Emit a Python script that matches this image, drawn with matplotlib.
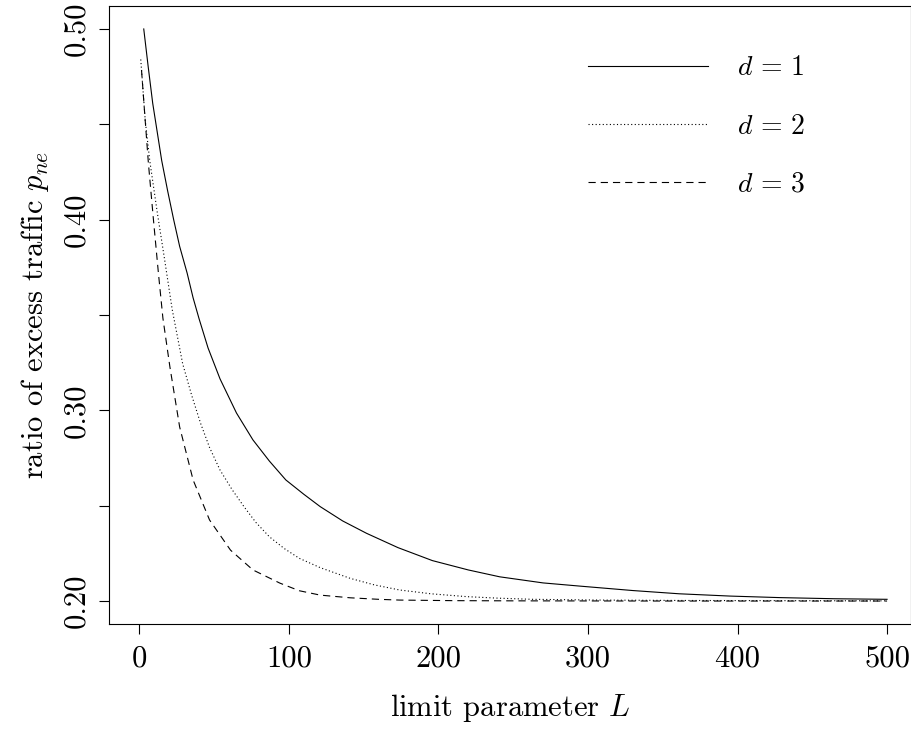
import matplotlib
matplotlib.use('Agg')
import matplotlib.pyplot as plt

plt.rcParams['font.family'] = ['cmr10', 'DejaVu Serif']
plt.rcParams['mathtext.fontset'] = 'cm'
plt.rcParams['axes.unicode_minus'] = False

# values
L_d1 = [3, 6, 9, 12, 15, 19, 23, 27, 32, 36, 40, 46, 54, 65, 76, 87, 98, 110, 121,
        136, 152, 173, 196, 220, 241, 270, 295, 330, 361, 395, 428, 465, 500]
p_d1 = [0.500, 0.480, 0.461, 0.446, 0.431, 0.415, 0.400, 0.386, 0.372, 0.359, 0.348,
        0.3327, 0.3165, 0.2986, 0.2845, 0.2734, 0.2635, 0.2560, 0.2495, 0.2420, 0.2355,
        0.2280, 0.2212, 0.2163, 0.2127, 0.2095, 0.2078, 0.2055, 0.2038, 0.2026, 0.2018,
        0.2012, 0.2009]

L_d2 = [1, 4, 7, 12, 17, 22, 29, 35, 41, 47, 54, 62, 70, 78, 87, 97, 107, 121, 141,
        157, 174, 195, 219, 240, 263, 308, 360, 430, 500]
p_d2 = [0.484, 0.452, 0.431, 0.404, 0.3788, 0.353, 0.3245, 0.3080, 0.2932, 0.2805,
        0.2687, 0.2585, 0.2495, 0.2412, 0.2337, 0.2275, 0.2224, 0.2175, 0.2119, 0.2085,
        0.2058, 0.2038, 0.2023, 0.2015, 0.2009, 0.2005, 0.2003, 0.2002, 0.2001]

L_d3 = [1.5, 3.8, 6.1, 9.5, 12.8, 15.8, 20.5, 27, 36, 47, 61, 76, 94, 107, 121, 141,
        160, 174, 210, 250, 350, 500]
p_d3 = [0.4785, 0.4538, 0.4297, 0.3998, 0.3720, 0.3484, 0.3227, 0.2913, 0.2635, 0.2425,
        0.2267, 0.2163, 0.2094, 0.2054, 0.2031, 0.2017, 0.2009, 0.2005, 0.2002, 0.2001,
        0.2000, 0.2000]

y_ticks = [0.20, 0.25, 0.30, 0.35, 0.40, 0.45, 0.50]
y_labels = ['0.20', '', '0.30', '', '0.40', '', '0.50']
x_ticks = [0, 100, 200, 300, 400, 500]

fig = plt.figure(figsize=(9.12, 7.3), dpi=100)
ax = fig.add_axes([0.1199, 0.1448, 0.8790, 0.8474])

ax.plot(L_d1, p_d1, color='black', lw=0.8, linestyle='-', label='$d\\,=\\,1$')
ax.plot(L_d2, p_d2, color='black', lw=0.8, linestyle=(0, (1, 2.2)), label='$d\\,=\\,2$')
ax.plot(L_d3, p_d3, color='black', lw=0.8, linestyle=(0, (6.5, 4.5)), label='$d\\,=\\,3$')

ax.set_xlim(-20, 516)
ax.set_ylim(0.1878, 0.5122)

ax.set_xticks(x_ticks)
ax.set_xticklabels([str(v) for v in x_ticks], fontsize=22)
ax.set_yticks(y_ticks)
ax.set_yticklabels(y_labels, fontsize=22, rotation=90, va='center')
ax.tick_params(direction='out', length=7, width=0.8)
ax.tick_params(axis='x', pad=8)
ax.tick_params(axis='y', pad=7)

for s in ax.spines.values():
    s.set_linewidth(0.8)

ax.set_xlabel('limit parameter $L$', fontsize=22, labelpad=14)
ax.set_ylabel('ratio of excess traffic $p_{ne}$', fontsize=22, labelpad=8)

ax.legend(loc='upper left', bbox_to_anchor=(588 / 912, 1 - 55 / 730),
          bbox_transform=fig.transFigure, frameon=False, fontsize=20,
          borderpad=0, borderaxespad=0,
          handlelength=4.32, handletextpad=1.04, labelspacing=1.15)

fig.savefig('out.png', dpi=100)
